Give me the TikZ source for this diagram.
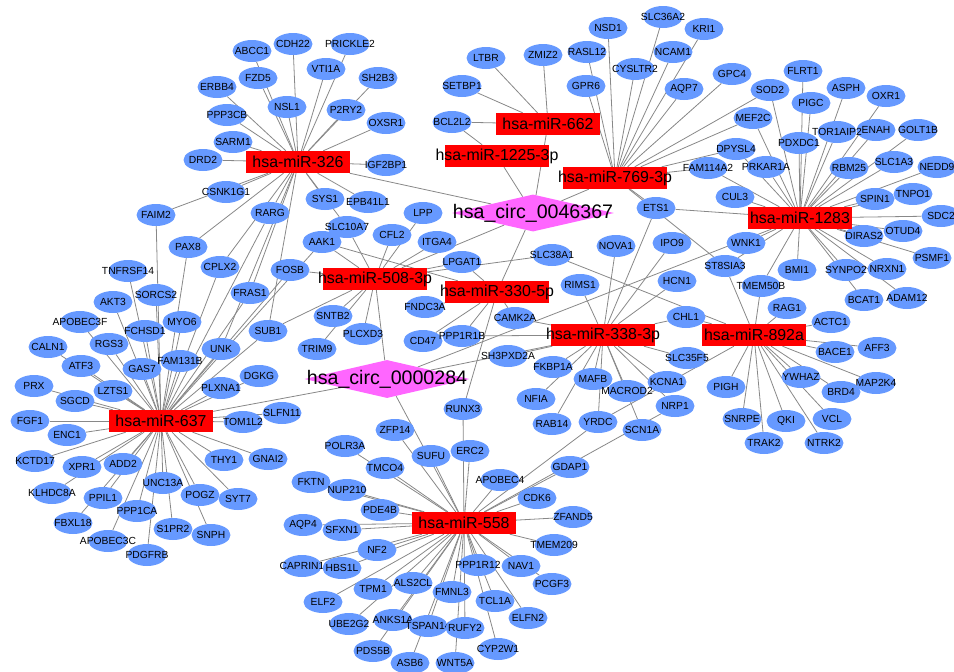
\documentclass[tikz,border=0pt]{standalone}
\usepackage{fontspec}
\setmainfont{Liberation Sans}
\usetikzlibrary{shapes.geometric}
\pgfdeclarelayer{bg}
\pgfsetlayers{bg,main}
\definecolor{geneblue}{RGB}{102,153,255}
\definecolor{mirred}{RGB}{255,0,0}
\definecolor{circpink}{RGB}{255,102,255}
\definecolor{edgegray}{RGB}{136,136,136}

\begin{document}
\begin{tikzpicture}[x=1pt,y=-1pt]
  \tikzstyle{gene}=[ellipse,fill=geneblue,minimum width=39pt,minimum height=22pt,inner xsep=-60pt,inner ysep=0pt,font=\fontsize{10.3}{12}\selectfont]
  \tikzstyle{mirna}=[rectangle,fill=mirred,minimum width=104pt,minimum height=22pt,inner xsep=-60pt,inner ysep=0pt,font=\fontsize{15.9}{18}\selectfont]
  \tikzstyle{circrna}=[diamond,fill=circpink,minimum width=162pt,minimum height=37pt,inner sep=0pt]
  \tikzstyle{circtext}=[font=\fontsize{19.6}{22}\selectfont,inner sep=0pt]
  \tikzstyle{link}=[draw=edgegray,line width=0.8pt]
  \useasboundingbox (0,0) rectangle (954,672);

  % circRNAs
  \node[circrna,label={[circtext]center:hsa\_circ\_0046367}] (c46) at (533,213) {};
  \node[circrna,minimum width=165pt,minimum height=38pt,label={[circtext]center:hsa\_circ\_0000284}] (c284) at (387,379) {};

  % genes around hsa-miR-326
  \node[gene] (ABCC1) at (252,51) {ABCC1};
  \node[gene] (CDH22) at (293,44) {CDH22};
  \node[gene] (PRICKLE2) at (350,44) {PRICKLE2};
  \node[gene] (FZD5) at (258,78) {FZD5};
  \node[gene] (VTI1A) at (326,69) {VTI1A};
  \node[gene] (SH2B3) at (378,78) {SH2B3};
  \node[gene] (ERBB4) at (217,87) {ERBB4};
  \node[gene] (NSL1) at (287,107) {NSL1};
  \node[gene] (P2RY2) at (346,110) {P2RY2};
  \node[gene] (PPP3CB) at (227,115) {PPP3CB};
  \node[gene] (OXSR1) at (386,123) {OXSR1};
  \node[gene] (SARM1) at (233,142) {SARM1};
  \node[gene] (DRD2) at (203,160) {DRD2};
  \node[gene] (IGF2BP1) at (386,165) {IGF2BP1};
  \node[gene] (CSNK1G1) at (226,192) {CSNK1G1};
  \node[gene] (SYS1) at (325,199) {SYS1};
  \node[gene] (EPB41L1) at (368,202) {EPB41L1};
  \node[gene] (RARG) at (270,213) {RARG};
  \node[gene] (FAIM2) at (156,215) {FAIM2};
  \node[gene] (LPP) at (423,213) {LPP};

  % genes, top middle
  \node[gene] (BCL2L2) at (452,122) {BCL2L2};
  \node[gene] (SETBP1) at (462,86) {SETBP1};
  \node[gene] (LTBR) at (486,58) {LTBR};
  \node[gene] (ZMIZ2) at (543,55) {ZMIZ2};
  \node[gene] (NSD1) at (608,28) {NSD1};
  \node[gene] (SLC36A2) at (663,17) {SLC36A2};
  \node[gene] (KRI1) at (704,29) {KRI1};
  \node[gene] (RASL12) at (587,52) {RASL12};
  \node[gene] (NCAM1) at (673,52) {NCAM1};
  \node[gene] (CYSLTR2) at (635,69) {CYSLTR2};
  \node[gene] (GPR6) at (586,86) {GPR6};
  \node[gene] (AQP7) at (684,89) {AQP7};
  \node[gene] (GPC4) at (732,74) {GPC4};

  % genes, top right
  \node[gene] (FLRT1) at (803,71) {FLRT1};
  \node[gene] (SOD2) at (770,90) {SOD2};
  \node[gene] (ASPH) at (846,88) {ASPH};
  \node[gene] (OXR1) at (886,96) {OXR1};
  \node[gene] (PIGC) at (811,103) {PIGC};
  \node[gene] (MEF2C) at (753,118) {MEF2C};
  \node[gene] (ENAH) at (876,130) {ENAH};
  \node[gene] (GOLT1B) at (918,130) {GOLT1B};
  \node[gene] (TOR1AIP2) at (837,132) {TOR1AIP2};
  \node[gene] (PDXDC1) at (799,143) {PDXDC1};
  \node[gene] (DPYSL4) at (736,149) {DPYSL4};
  \node[gene] (PRKAR1A) at (766,167) {PRKAR1A};
  \node[gene] (RBM25) at (849,168) {RBM25};
  \node[gene] (SLC1A3) at (894,162) {SLC1A3};
  \node[gene] (NEDD9) at (937,167) {NEDD9};
  \node[gene] (FAM114A2) at (708,168) {FAM114A2};
  \node[gene] (CUL3) at (735,197) {CUL3};
  \node[gene] (SPIN1) at (875,199) {SPIN1};
  \node[gene] (TNPO1) at (913,194) {TNPO1};
  \node[gene] (SDC2) at (941,216) {SDC2};
  \node[gene] (ETS1) at (656,208) {ETS1};

  % genes, right middle
  \node[gene] (WNK1) at (746,243) {WNK1};
  \node[gene] (DIRAS2) at (864,236) {DIRAS2};
  \node[gene] (OTUD4) at (903,231) {OTUD4};
  \node[gene] (PSMF1) at (932,258) {PSMF1};
  \node[gene] (BMI1) at (797,270) {BMI1};
  \node[gene] (SYNPO2) at (846,270) {SYNPO2};
  \node[gene] (NRXN1) at (887,269) {NRXN1};
  \node[gene] (TMEM50B) at (761,286) {TMEM50B};
  \node[gene] (ST8SIA3) at (725,266) {ST8SIA3};
  \node[gene] (BCAT1) at (864,300) {BCAT1};
  \node[gene] (ADAM12) at (907,298) {ADAM12};
  \node[gene] (RAG1) at (787,308) {RAG1};
  \node[gene] (ACTC1) at (831,322) {ACTC1};
  \node[gene] (AFF3) at (877,348) {AFF3};
  \node[gene] (BACE1) at (835,352) {BACE1};
  \node[gene] (YWHAZ) at (801,377) {YWHAZ};
  \node[gene] (MAP2K4) at (876,383) {MAP2K4};
  \node[gene] (BRD4) at (841,392) {BRD4};
  \node[gene] (PIGH) at (726,387) {PIGH};
  \node[gene] (SNRPE) at (742,419) {SNRPE};
  \node[gene] (QKI) at (786,421) {QKI};
  \node[gene] (VCL) at (832,419) {VCL};
  \node[gene] (TRAK2) at (764,443) {TRAK2};
  \node[gene] (NTRK2) at (824,443) {NTRK2};

  % genes, centre
  \node[gene] (SLC38A1) at (552,255) {SLC38A1};
  \node[gene] (NOVA1) at (616,246) {NOVA1};
  \node[gene] (IPO9) at (672,243) {IPO9};
  \node[gene] (RIMS1) at (580,285) {RIMS1};
  \node[gene] (HCN1) at (677,281) {HCN1};
  \node[gene] (CAMK2A) at (515,318) {CAMK2A};
  \node[gene] (CHL1) at (686,317) {CHL1};
  \node[gene] (SH3PXD2A) at (508,356) {SH3PXD2A};
  \node[gene] (SLC35F5) at (687,358) {SLC35F5};
  \node[gene] (FKBP1A) at (553,367) {FKBP1A};
  \node[gene] (MAFB) at (593,379) {MAFB};
  \node[gene] (KCNA1) at (667,382) {KCNA1};
  \node[gene] (MACROD2) at (627,391) {MACROD2};
  \node[gene] (NFIA) at (536,399) {NFIA};
  \node[gene] (NRP1) at (675,406) {NRP1};
  \node[gene] (RAB14) at (552,424) {RAB14};
  \node[gene] (YRDC) at (598,422) {YRDC};
  \node[gene] (SCN1A) at (642,430) {SCN1A};
  \node[gene] (SLC10A7) at (347,227) {SLC10A7};
  \node[gene] (CFL2) at (392,235) {CFL2};
  \node[gene] (AAK1) at (322,242) {AAK1};
  \node[gene] (ITGA4) at (437,242) {ITGA4};
  \node[gene] (LPGAT1) at (462,262) {LPGAT1};
  \node[gene] (FOSB) at (290,270) {FOSB};
  \node[gene] (FRAS1) at (250,293) {FRAS1};
  \node[gene] (FNDC3A) at (425,307) {FNDC3A};
  \node[gene] (SNTB2) at (333,316) {SNTB2};
  \node[gene] (SUB1) at (268,331) {SUB1};
  \node[gene] (PLCXD3) at (363,334) {PLCXD3};
  \node[gene] (CD47) at (423,341) {CD47};
  \node[gene] (PPP1R1B) at (462,336) {PPP1R1B};
  \node[gene] (TRIM9) at (317,349) {TRIM9};
  \node[gene] (DGKG) at (259,376) {DGKG};
  \node[gene] (SLFN11) at (282,413) {SLFN11};
  \node[gene] (RUNX3) at (463,409) {RUNX3};
  \node[gene] (ZFP14) at (395,430) {ZFP14};

  % genes around hsa-miR-637
  \node[gene] (PAX8) at (188,247) {PAX8};
  \node[gene] (TNFRSF14) at (128,271) {TNFRSF14};
  \node[gene] (CPLX2) at (220,267) {CPLX2};
  \node[gene] (AKT3) at (113,302) {AKT3};
  \node[gene] (SORCS2) at (156,295) {SORCS2};
  \node[gene] (APOBEC3F) at (80,322) {APOBEC3F};
  \node[gene] (MYO6) at (182,322) {MYO6};
  \node[gene] (FCHSD1) at (145,331) {FCHSD1};
  \node[gene] (CALN1) at (48,347) {CALN1};
  \node[gene] (RGS3) at (109,344) {RGS3};
  \node[gene] (UNK) at (221,349) {UNK};
  \node[gene] (ATF3) at (81,366) {ATF3};
  \node[gene] (GAS7) at (142,369) {GAS7};
  \node[gene] (FAM131B) at (180,361) {FAM131B};
  \node[gene] (PRX) at (34,386) {PRX};
  \node[gene] (LZTS1) at (113,391) {LZTS1};
  \node[gene] (PLXNA1) at (221,388) {PLXNA1};
  \node[gene] (SGCD) at (75,401) {SGCD};
  \node[gene] (FGF1) at (30,421) {FGF1};
  \node[gene] (ENC1) at (67,435) {ENC1};
  \node[gene] (TOM1L2) at (243,422) {TOM1L2};
  \node[gene] (KCTD17) at (35,461) {KCTD17};
  \node[gene] (XPR1) at (82,467) {XPR1};
  \node[gene] (ADD2) at (123,464) {ADD2};
  \node[gene] (THY1) at (224,460) {THY1};
  \node[gene] (GNAI2) at (268,459) {GNAI2};
  \node[gene] (KLHDC8A) at (52,493) {KLHDC8A};
  \node[gene] (UNC13A) at (163,483) {UNC13A};
  \node[gene] (POGZ) at (200,495) {POGZ};
  \node[gene] (SYT7) at (238,499) {SYT7};
  \node[gene] (PPIL1) at (103,498) {PPIL1};
  \node[gene] (PPP1CA) at (137,511) {PPP1CA};
  \node[gene] (FBXL18) at (73,523) {FBXL18};
  \node[gene] (S1PR2) at (173,529) {S1PR2};
  \node[gene] (SNPH) at (211,535) {SNPH};
  \node[gene] (APOBEC3C) at (108,541) {APOBEC3C};
  \node[gene] (PDGFRB) at (147,555) {PDGFRB};

  % genes around hsa-miR-558
  \node[gene] (POLR3A) at (345,446) {POLR3A};
  \node[gene] (SUFU) at (431,456) {SUFU};
  \node[gene] (ERC2) at (470,451) {ERC2};
  \node[gene] (TMCO4) at (385,468) {TMCO4};
  \node[gene] (FKTN) at (311,482) {FKTN};
  \node[gene] (NUP210) at (347,490) {NUP210};
  \node[gene] (APOBEC4) at (500,480) {APOBEC4};
  \node[gene] (GDAP1) at (570,467) {GDAP1};
  \node[gene] (CDK6) at (537,498) {CDK6};
  \node[gene] (PDE4B) at (380,510) {PDE4B};
  \node[gene] (ZFAND5) at (573,517) {ZFAND5};
  \node[gene] (AQP4) at (303,525) {AQP4};
  \node[gene] (SFXN1) at (342,530) {SFXN1};
  \node[gene] (TMEM209) at (554,545) {TMEM209};
  \node[gene] (NF2) at (377,550) {NF2};
  \node[gene] (CAPRIN1) at (302,566) {CAPRIN1};
  \node[gene] (HBS1L) at (342,568) {HBS1L};
  \node[gene] (PPP1R12) at (478,565) {PPP1R12};
  \node[gene] (NAV1) at (521,566) {NAV1};
  \node[gene] (ALS2CL) at (413,583) {ALS2CL};
  \node[gene] (TPM1) at (373,589) {TPM1};
  \node[gene] (FMNL3) at (452,592) {FMNL3};
  \node[gene] (PCGF3) at (552,584) {PCGF3};
  \node[gene] (ELF2) at (323,602) {ELF2};
  \node[gene] (TCL1A) at (495,601) {TCL1A};
  \node[gene] (ELFN2) at (528,618) {ELFN2};
  \node[gene] (ANKS1A) at (393,620) {ANKS1A};
  \node[gene] (UBE2G2) at (349,624) {UBE2G2};
  \node[gene] (TSPAN14) at (428,626) {TSPAN14};
  \node[gene] (RUFY2) at (465,628) {RUFY2};
  \node[gene] (CYP2W1) at (498,649) {CYP2W1};
  \node[gene] (PDS5B) at (373,651) {PDS5B};
  \node[gene] (ASB6) at (410,663) {ASB6};
  \node[gene] (WNT5A) at (455,663) {WNT5A};

  % miRNAs
  \node[mirna] (mir326) at (298,162) {hsa-miR-326};
  \node[mirna] (mir662) at (548,124) {hsa-miR-662};
  \node[mirna] (mir1225) at (497,156) {hsa-miR-1225-3p};
  \node[mirna] (mir769) at (615,178) {hsa-miR-769-3p};
  \node[mirna] (mir1283) at (800,218) {hsa-miR-1283};
  \node[mirna] (mir508) at (375,279) {hsa-miR-508-3p};
  \node[mirna] (mir330) at (497,292) {hsa-miR-330-5p};
  \node[mirna] (mir338) at (603,335) {hsa-miR-338-3p};
  \node[mirna] (mir892) at (754,335) {hsa-miR-892a};
  \node[mirna] (mir637) at (161,421) {hsa-miR-637};
  \node[mirna] (mir558) at (464,523) {hsa-miR-558};

  \begin{pgfonlayer}{bg}
    \foreach \m in {mir326,mir662,mir1225,mir769,mir330,mir508}
      \draw[link] (c46) -- (\m);
    \foreach \m in {mir637,mir508,mir558,mir338,mir1283}
      \draw[link] (c284) -- (\m);
    \foreach \g in {ABCC1,CDH22,PRICKLE2,FZD5,VTI1A,SH2B3,ERBB4,NSL1,P2RY2,PPP3CB,OXSR1,SARM1,DRD2,IGF2BP1,CSNK1G1,SYS1,EPB41L1,RARG,FAIM2,PAX8,CPLX2,FRAS1,UNK,SUB1,SLC10A7}
      \draw[link] (mir326) -- (\g);
    \foreach \g in {FAIM2,PAX8,TNFRSF14,CPLX2,AKT3,SORCS2,APOBEC3F,MYO6,FCHSD1,CALN1,RGS3,UNK,ATF3,GAS7,FAM131B,PRX,LZTS1,PLXNA1,SGCD,FGF1,ENC1,TOM1L2,SLFN11,KCTD17,XPR1,ADD2,THY1,GNAI2,KLHDC8A,UNC13A,POGZ,SYT7,PPIL1,PPP1CA,FBXL18,S1PR2,SNPH,APOBEC3C,PDGFRB,FRAS1,RARG,AAK1,FOSB,SUB1,DGKG}
      \draw[link] (mir637) -- (\g);
    \foreach \g in {SLC10A7,CFL2,AAK1,ITGA4,LPGAT1,FOSB,SNTB2,SUB1,PLCXD3,TRIM9,LPP,SLC38A1}
      \draw[link] (mir508) -- (\g);
    \foreach \g in {LPGAT1,AAK1,FNDC3A,CD47,PPP1R1B,CAMK2A,RUNX3}
      \draw[link] (mir330) -- (\g);
    \foreach \g in {NOVA1,IPO9,RIMS1,HCN1,CAMK2A,CHL1,SH3PXD2A,SLC35F5,FKBP1A,MAFB,KCNA1,MACROD2,NFIA,NRP1,RAB14,YRDC,SCN1A,ETS1,PPP1R1B}
      \draw[link] (mir338) -- (\g);
    \foreach \g in {ST8SIA3,TMEM50B,RAG1,ACTC1,BACE1,AFF3,YWHAZ,BRD4,MAP2K4,PIGH,SNRPE,QKI,VCL,TRAK2,NTRK2,CHL1,SLC38A1,YRDC}
      \draw[link] (mir892) -- (\g);
    \foreach \g in {FLRT1,SOD2,ASPH,OXR1,PIGC,MEF2C,ENAH,GOLT1B,TOR1AIP2,PDXDC1,DPYSL4,PRKAR1A,RBM25,SLC1A3,NEDD9,FAM114A2,CUL3,SPIN1,TNPO1,SDC2,ETS1,WNK1,BMI1,SYNPO2,NRXN1,DIRAS2,OTUD4,PSMF1,BCAT1,ADAM12,TMEM50B,ST8SIA3}
      \draw[link] (mir1283) -- (\g);
    \foreach \g in {NSD1,SLC36A2,KRI1,RASL12,NCAM1,CYSLTR2,GPR6,AQP7,GPC4,MEF2C,SOD2,DPYSL4,FAM114A2,ETS1,ST8SIA3}
      \draw[link] (mir769) -- (\g);
    \foreach \g in {LTBR,ZMIZ2,SETBP1,BCL2L2}
      \draw[link] (mir662) -- (\g);
    \draw[link] (mir1225) -- (BCL2L2);
    \foreach \g in {POLR3A,SUFU,ERC2,TMCO4,FKTN,NUP210,APOBEC4,GDAP1,CDK6,PDE4B,ZFAND5,AQP4,SFXN1,TMEM209,NF2,CAPRIN1,HBS1L,PPP1R12,NAV1,ALS2CL,TPM1,FMNL3,PCGF3,ELF2,TCL1A,ELFN2,ANKS1A,UBE2G2,TSPAN14,RUFY2,CYP2W1,PDS5B,ASB6,WNT5A,ZFP14,RUNX3,YRDC,NRP1}
      \draw[link] (mir558) -- (\g);
  \end{pgfonlayer}
\end{tikzpicture}
\end{document}
